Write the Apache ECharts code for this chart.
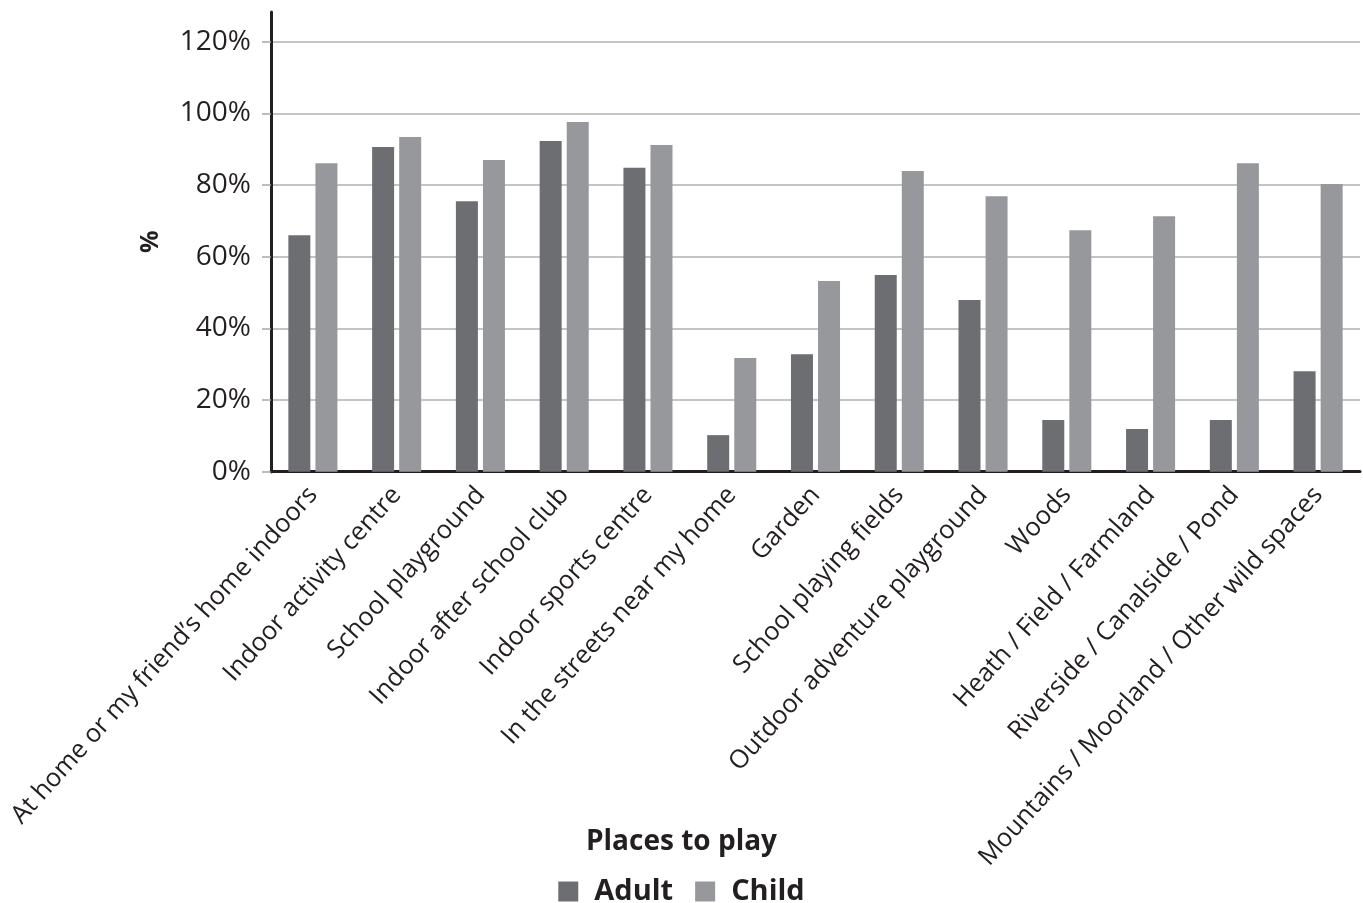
<!DOCTYPE html>
<html>
<head>
<meta charset="utf-8">
<script src="https://cdn.jsdelivr.net/npm/echarts@6/dist/echarts.min.js"></script>
<style>
  html, body { margin: 0; padding: 0; background: #fff; }
  #chart { width: 1363px; height: 903px; }
</style>
</head>
<body>
<div id="chart"></div>
<script>
// Places to play: share of adults and children (%)
const categories = [
  'At home or my friend\u2019s home indoors',
  'Indoor activity centre',
  'School playground',
  'Indoor after school club',
  'Indoor sports centre',
  'In the streets near my home',
  'Garden',
  'School playing fields',
  'Outdoor adventure playground',
  'Woods',
  'Heath / Field / Farmland',
  'Riverside / Canalside / Pond',
  'Mountains / Moorland / Other wild spaces'
];
const adultValues = [66, 90.6, 75.5, 92.3, 84.8, 10.2, 32.8, 54.9, 47.9, 14.4, 11.9, 14.4, 28.0];
const childValues = [86.1, 93.4, 87.0, 97.6, 91.2, 31.7, 53.2, 83.9, 76.9, 67.4, 71.3, 86.1, 80.3];
const yTicks = [0, 20, 40, 60, 80, 100, 120];

const FONT = '"Open Sans", "Noto Sans", sans-serif';
const INK = '#231f20';
const ADULT = '#6d6e71';
const CHILD = '#97989c';

const chart = echarts.init(document.getElementById('chart'), null, { renderer: 'canvas' });

chart.setOption({
  backgroundColor: '#ffffff',
  animation: false,
  textStyle: { fontFamily: FONT, color: INK },
  title: {
    text: 'Places to play',
    left: 'center',
    top: 823,
    textStyle: { fontFamily: FONT, fontSize: 28, fontWeight: 'bold', color: INK }
  },
  legend: {
    data: ['Adult', 'Child'],
    left: 'center',
    top: 872,
    itemWidth: 20,
    itemHeight: 20,
    itemGap: 22,
    icon: 'rect',
    textStyle: { fontFamily: FONT, fontSize: 29, fontWeight: 'bold', color: INK, padding: [0, 0, 0, 11] }
  },
  grid: [
    { left: 271, right: 3, top: 41.7, bottom: 431.3, containLabel: false, outerBoundsMode: 'none' },
    { left: 271, right: 3, top: 12, bottom: 431.3, containLabel: false, outerBoundsMode: 'none' }
  ],
  xAxis: [
    {
      type: 'category',
      gridIndex: 0,
      data: categories,
      axisLine: { show: true, lineStyle: { color: INK, width: 3 } },
      axisTick: { show: false },
      axisLabel: {
        interval: 0,
        rotate: 48,
        margin: 19,
        fontFamily: FONT,
        fontSize: 25.5,
        color: INK
      }
    },
    { type: 'category', gridIndex: 1, data: categories, show: false }
  ],
  yAxis: [
    {
      type: 'value',
      gridIndex: 0,
      min: yTicks[0],
      max: yTicks[yTicks.length - 1],
      interval: 20,
      axisLine: { show: true, lineStyle: { color: INK, width: 3 } },
      axisTick: { show: true, inside: false, length: 9, lineStyle: { color: '#a7a7a7', width: 1.5 } },
      axisLabel: {
        margin: 20,
        fontFamily: FONT,
        fontSize: 28,
        color: INK,
        formatter: v => v + '%'
      },
      splitLine: { show: true, lineStyle: { color: '#b0b0b0', width: 1.5 } }
    },
    {
      // taller axis line running above the top gridline, carrying the axis name
      type: 'value',
      gridIndex: 1,
      min: 0,
      max: 128,
      name: '%',
      nameLocation: 'middle',
      nameGap: 108,
      nameTextStyle: { fontFamily: FONT, fontSize: 25, fontWeight: 'bold', color: INK },
      axisLine: { show: true, lineStyle: { color: INK, width: 3 } },
      axisTick: { show: false },
      axisLabel: { show: false },
      splitLine: { show: false }
    }
  ],
  series: [
    {
      name: 'Adult',
      type: 'bar',
      xAxisIndex: 0,
      yAxisIndex: 0,
      data: adultValues,
      barWidth: 22,
      barGap: '23%',
      itemStyle: { color: ADULT }
    },
    {
      name: 'Child',
      type: 'bar',
      xAxisIndex: 0,
      yAxisIndex: 0,
      data: childValues,
      barWidth: 22,
      barGap: '23%',
      itemStyle: { color: CHILD }
    }
  ]
});
</script>
</body>
</html>
